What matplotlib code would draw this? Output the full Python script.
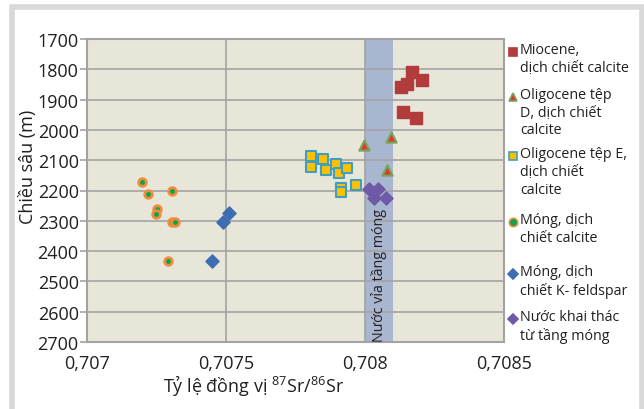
import matplotlib
matplotlib.use('Agg')
import matplotlib.pyplot as plt
from matplotlib.lines import Line2D
from matplotlib.patches import Rectangle

plt.rcParams['font.family'] = ['Open Sans', 'DejaVu Sans']
plt.rcParams['mathtext.default'] = 'regular'

# --- du lieu doc tu hinh ---
mio_x = [0.708168, 0.708205, 0.708151, 0.708128, 0.708135, 0.708184]
mio_y = [1810, 1835, 1850, 1859, 1940, 1961]

oliD_x = [0.707995, 0.708095, 0.708080]
oliD_y = [2049, 2022, 2133]

oliE_x = [0.707805, 0.707805, 0.707850, 0.707860, 0.707895, 0.707907,
          0.707937, 0.707915, 0.707915, 0.707969]
oliE_y = [2087, 2124, 2095, 2131, 2111, 2142, 2125, 2193, 2206, 2181]

mong_ca_x = [0.707198, 0.707219, 0.707306, 0.707250, 0.707248, 0.707306,
             0.707317, 0.707290]
mong_ca_y = [2172, 2213, 2203, 2262, 2278, 2303, 2303, 2434]

mong_kf_x = [0.707510, 0.707490, 0.707449]
mong_kf_y = [2275, 2303, 2434]

nuoc_x = [0.708014, 0.708047, 0.708032, 0.708077]
nuoc_y = [2194, 2194, 2225, 2225]

vung_nuoc_via = (0.7080, 0.7081)

x_ticks = [0.707, 0.7075, 0.708, 0.7085]
x_labels = ['0,707', '0,7075', '0,708', '0,7085']
y_ticks = list(range(1700, 2701, 100))

W, H = 644, 410
fig = plt.figure(figsize=(W / 100, H / 100), dpi=100)
ax = fig.add_axes([87 / W, 1 - 343 / H, 417 / W, 303 / H])

ax.set_facecolor('#e8e5d9')
ax.set_axisbelow(True)
ax.grid(True, color='#a3a3a3', linewidth=1.2)

ax.axvspan(*vung_nuoc_via, color='#a9b6cf', zorder=0.4, lw=0)
ax.text(sum(vung_nuoc_via) / 2, 2698, 'Nước vỉa tầng móng', rotation=90,
        ha='center', va='bottom', fontsize=10.3, color='#231f20')

ax.scatter(mio_x, mio_y, marker='s', s=70, c='#b23b3b', edgecolors='#b23b3b', zorder=3)
ax.scatter(oliD_x, oliD_y, marker='^', s=55, c='#e03a2f', edgecolors='#76a65a',
           linewidths=1.5, zorder=3)
ax.scatter(oliE_x, oliE_y, marker='s', s=60, c='#ffc000', edgecolors='#3f9fc0',
           linewidths=1.5, zorder=3)
ax.scatter(mong_ca_x, mong_ca_y, marker='o', s=30, c='#00a650', edgecolors='#f08c3a',
           linewidths=2, zorder=3)
ax.scatter(mong_kf_x, mong_kf_y, marker='D', s=45, c='#3e6db3', edgecolors='#3e6db3', zorder=3)
ax.scatter(nuoc_x, nuoc_y, marker='D', s=45, c='#6e5aa6', edgecolors='#6e5aa6', zorder=3)

ax.set_xlim(0.707, 0.7085)
ax.set_ylim(2700, 1700)
ax.set_xticks(x_ticks)
ax.set_xticklabels(x_labels)
ax.set_yticks(y_ticks)
ax.tick_params(axis='x', length=0, pad=9, labelsize=13, colors='#231f20')
ax.tick_params(axis='y', length=5, width=1.2, color='#a3a3a3', pad=1,
               labelsize=13, labelcolor='#231f20')
for s in ax.spines.values():
    s.set_color('#a3a3a3')
    s.set_linewidth(1.5)

ax.set_xlabel('Tỷ lệ đồng vị $^{87}$Sr/$^{86}$Sr', fontsize=13, color='#231f20')
ax.xaxis.set_label_coords(0.40, -0.10)
ax.set_ylabel('Chiều sâu (m)', fontsize=13, color='#231f20')
ax.yaxis.set_label_coords(-0.12, 0.58)

# --- chu giai ---
chu_giai = [
    ('Miocene,\ndịch chiết calcite', 53, dict(marker='s', mfc='#b23b3b', mec='#b23b3b')),
    ('Oligocene tệp\nD, dịch chiết\ncalcite', 98, dict(marker='^', mfc='#e03a2f', mec='#76a65a')),
    ('Oligocene tệp E,\ndịch chiết\ncalcite', 157, dict(marker='s', mfc='#ffc000', mec='#3f9fc0')),
    ('Móng, dịch\nchiết calcite', 223, dict(marker='o', mfc='#00a650', mec='#f08c3a')),
    ('Móng, dịch\nchiết K- feldspar', 275, dict(marker='D', mfc='#3e6db3', mec='#3e6db3', markersize=5)),
    ('Nước khai thác\ntừ tầng móng', 320, dict(marker='D', mfc='#6e5aa6', mec='#6e5aa6', markersize=5)),
]
for nhan, yy, kieu in chu_giai:
    opts = dict(markersize=6, markeredgewidth=1.2)
    opts.update(kieu)
    fig.add_artist(Line2D([513 / W], [1 - yy / H], transform=fig.transFigure,
                          linestyle='none', **opts))
    fig.text(520 / W, 1 - (yy - 10) / H, nhan, ha='left', va='top', fontsize=10.3,
             linespacing=1.25, color='#231f20')

# khung vien xam
fig.add_artist(Rectangle((12.5 / W, 1 - 420 / H), 629 / W, (420 - 8) / H,
                         transform=fig.transFigure, fill=False, edgecolor='#d9d9d9',
                         linewidth=4, clip_on=False))

fig.savefig('out.png', dpi=100)
